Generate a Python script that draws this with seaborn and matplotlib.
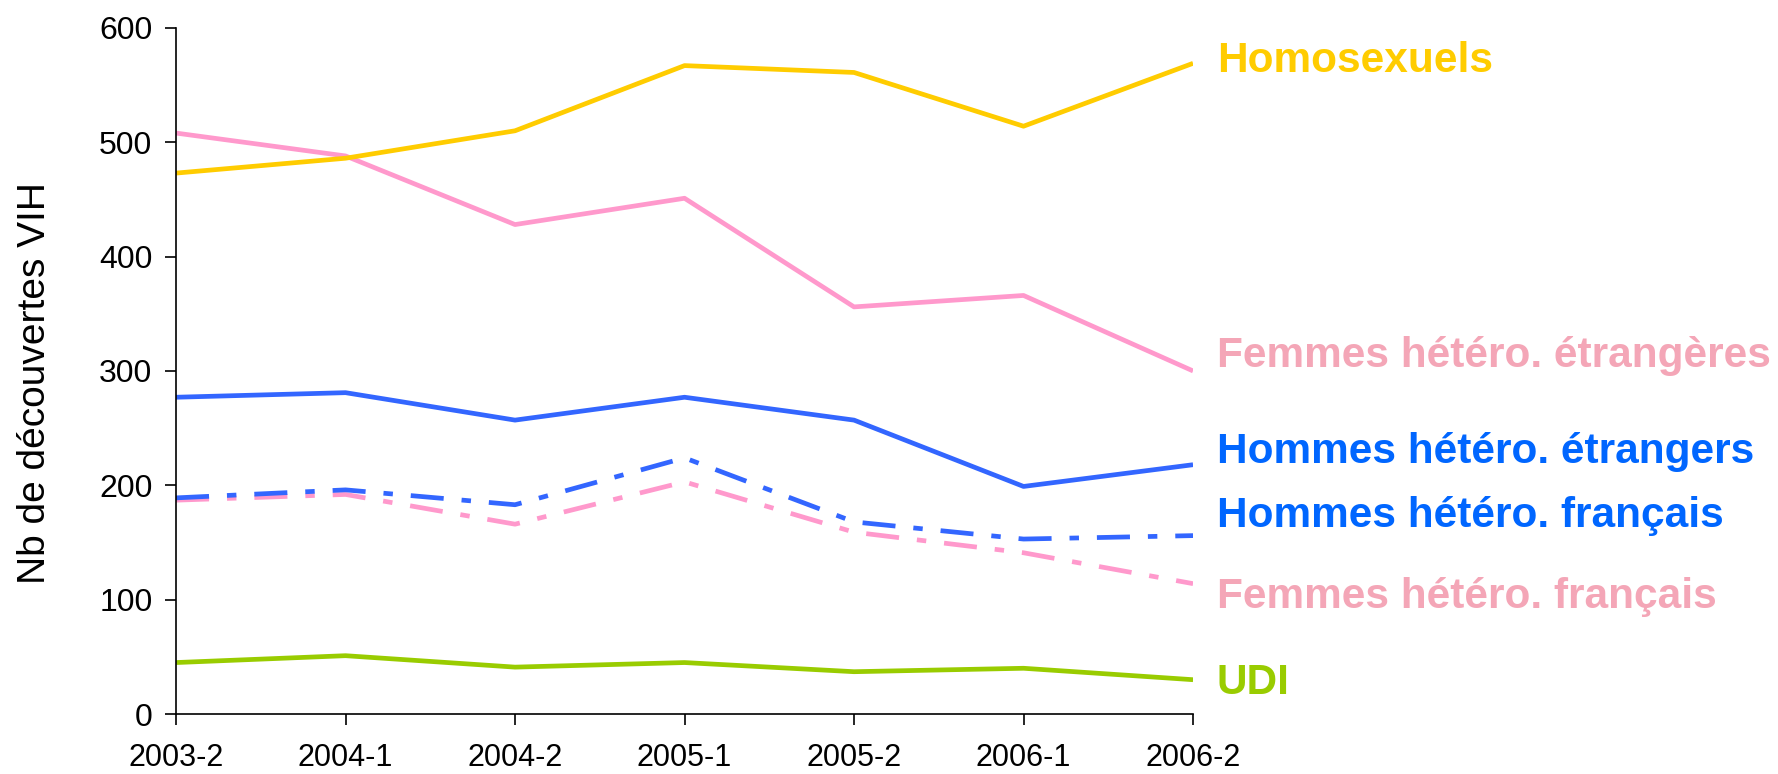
import matplotlib
matplotlib.use("Agg")
import matplotlib.pyplot as plt
import seaborn as sns
import pandas as pd
import numpy as np

periods = ["2003-2", "2004-1", "2004-2", "2005-1", "2005-2", "2006-1", "2006-2"]
homosexuels = [473, 486, 510, 567, 561, 514, 569]
femmes_etrangeres = [508, 488, 428, 451, 356, 366, 300]
hommes_etrangers = [277, 281, 257, 277, 257, 199, 218]
hommes_francais = [189, 196, 183, 224, 168, 153, 156]
femmes_francais = [187, 192, 166, 203, 159, 141, 114]
udi = [45, 51, 41, 45, 37, 40, 30]

series_names = ["Homosexuels", "Femmes hétéro. étrangères", "Hommes hétéro. étrangers",
                "Hommes hétéro. français", "Femmes hétéro. français", "UDI"]
series_values = [homosexuels, femmes_etrangeres, hommes_etrangers,
                 hommes_francais, femmes_francais, udi]
line_colors = ["#FFCC00", "#FF99CC", "#3366FF", "#3366FF", "#FF99CC", "#99CC00"]
text_colors = ["#FFCC00", "#F4A6B7", "#0066FF", "#0066FF", "#F4A6B7", "#99CC00"]
dashed = [False, False, False, True, True, False]
label_y = [571, 313, 229, 173, 102, 27]

sns.set_theme(style="white")
plt.rcParams["font.family"] = ["Liberation Sans", "DejaVu Sans"]

fig = plt.figure(figsize=(17.78, 7.74), dpi=100)
ax = fig.add_axes([0.099, 0.0775, 0.572, 0.8865])

rows = []
for name, vals in zip(series_names, series_values):
    for i, v in enumerate(vals):
        rows.append({"serie": name, "idx": i, "val": v})
df = pd.DataFrame(rows)

order = [4, 3, 5, 2, 1, 0]
for k in order:
    sub = df[df["serie"] == series_names[k]]
    sns.lineplot(data=sub, x="idx", y="val", ax=ax, color=line_colors[k],
                 linewidth=3.4, legend=False)
    l = ax.lines[-1]
    if dashed[k]:
        l.set_dashes([7, 3.8, 2, 3.8])
        l.set_dash_capstyle("butt")
    l.set_solid_capstyle("butt")

for k in range(len(series_names)):
    ax.text(6.14, label_y[k], series_names[k], color=text_colors[k], fontsize=30.5,
            fontweight="bold", va="center", ha="left", clip_on=False)

ax.set_xlim(0, 6)
ax.set_ylim(0, 600)
ax.set_xticks(range(len(periods)))
ax.set_xticklabels(periods, fontsize=22)
ax.set_yticks(range(0, 601, 100))
ax.set_yticklabels([str(v) for v in range(0, 601, 100)], fontsize=23)
ax.set_xlabel("")
ax.set_ylabel("Nb de découvertes VIH", fontsize=28, color="black")
ax.yaxis.set_label_coords(-0.121, 0.4825)
for s in ["top", "right"]:
    ax.spines[s].set_visible(False)
for s in ["left", "bottom"]:
    ax.spines[s].set_color("black")
    ax.spines[s].set_linewidth(1.2)
ax.tick_params(axis="both", direction="out", length=8, width=1.2, color="black",
               left=True, bottom=True, labelcolor="black")
ax.tick_params(axis="x", pad=13)
ax.tick_params(axis="y", pad=9)

fig.savefig("out.png", dpi=100)
